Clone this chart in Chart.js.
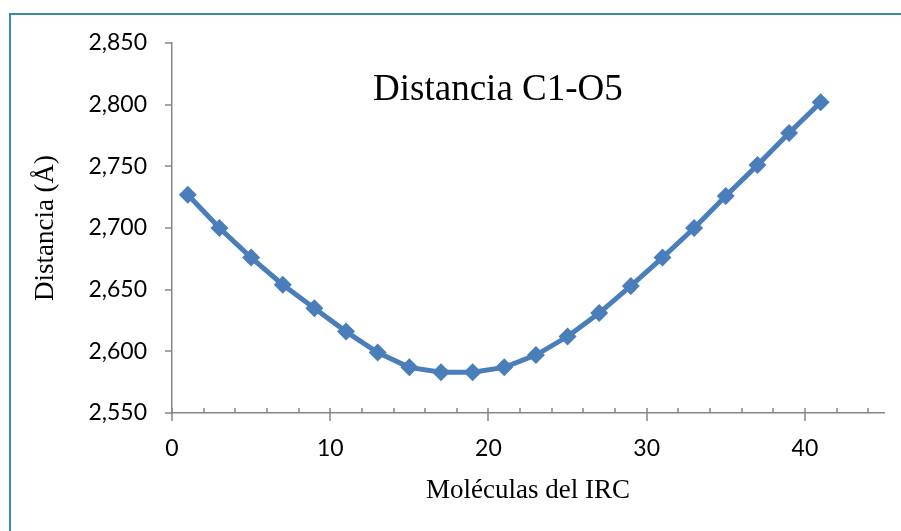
<!DOCTYPE html>
<html><head><meta charset="utf-8">
<script src="https://cdn.jsdelivr.net/npm/chart.js@4"></script>
<style>
html,body{margin:0;padding:0;background:#fff;}
#wrap{position:relative;width:901px;height:531px;overflow:hidden;}
#frame{position:absolute;left:9px;top:13px;width:900px;height:600px;border-left:2px solid #3A8CA8;border-top:2px solid #3A8CA8;box-sizing:border-box;}
canvas{position:absolute;left:0;top:0;}
</style></head>
<body><div id="wrap"><div id="frame"></div><canvas id="c" width="901" height="531"></canvas></div>
<script>
const titleText = "Distancia C1-O5";
const xTitle = "Moléculas del IRC";
const yTitle = "Distancia (Å)";
const xValues = [1,3,5,7,9,11,13,15,17,19,21,23,25,27,29,31,33,35,37,39,41];
const distances = [2.727,2.700,2.676,2.654,2.635,2.616,2.599,2.587,2.583,2.583,2.587,2.597,2.612,2.631,2.653,2.676,2.700,2.726,2.751,2.777,2.802];
const xMin = 0, xMax = 45, xMajor = 10, xMinor = 2;
const yMin = 2.55, yMax = 2.85, yStep = 0.05;

const pts = xValues.map((x,i)=>({x:x,y:distances[i]}));
const axisColor = '#868686';
const tickFont = {family:'Lato, "Open Sans", sans-serif', size:23};
const serif = '"Liberation Serif", "DejaVu Serif", serif';

const tickPlugin = {
  id:'ticks',
  afterDraw(chart){
    const ctx = chart.ctx, xs = chart.scales.x, ys = chart.scales.y;
    const a = chart.chartArea;
    ctx.save();
    ctx.strokeStyle = axisColor; ctx.lineWidth = 1.5;
    ctx.beginPath();
    for (let v = xMin; v < xMax; v += xMinor) {
      const px = Math.round(xs.getPixelForValue(v));
      if (v % xMajor === 0) { ctx.moveTo(px, a.bottom-5); ctx.lineTo(px, a.bottom+8); }
      else { ctx.moveTo(px, a.bottom-5); ctx.lineTo(px, a.bottom); }
    }
    ys.ticks.forEach(t=>{
      const py = Math.round(ys.getPixelForValue(t.value));
      ctx.moveTo(a.left-7, py); ctx.lineTo(a.left, py);
    });
    ctx.stroke();
    ctx.fillStyle = '#000';
    ctx.font = '37px ' + serif;
    ctx.textAlign = 'center'; ctx.textBaseline = 'middle';
    ctx.fillText(titleText, xs.getPixelForValue(20.6), ys.getPixelForValue(2.812));
    ctx.restore();
  }
};

new Chart(document.getElementById('c'), {
  type:'scatter',
  data:{datasets:[{
    data:pts, showLine:true, borderColor:'#4A7EBB', backgroundColor:'#4A7EBB',
    borderWidth:5, pointStyle:'rectRot', pointRadius:9, pointHoverRadius:9,
    pointBorderWidth:0, tension:0
  }]},
  options:{
    responsive:false, animation:false, devicePixelRatio:1,
    layout:{padding:{left:0,top:43,right:17,bottom:0}},
    plugins:{legend:{display:false}, tooltip:{enabled:false}, title:{display:false}},
    scales:{
      x:{type:'linear', min:xMin, max:xMax,
        afterFit(s){ s.height = 118; },
        grid:{display:false},
        border:{display:true, color:axisColor, width:1.5},
        ticks:{stepSize:xMajor, color:'#000', font:tickFont, padding:14, maxRotation:0,
          callback:v=> (v % xMajor === 0 && v < xMax) ? String(v) : ''},
        title:{display:true, text:xTitle, color:'#000', font:{family:serif, size:27}, padding:{top:4, bottom:24}}
      },
      y:{type:'linear', min:yMin, max:yMax,
        afterFit(s){ s.width = 172; },
        grid:{display:false},
        border:{display:true, color:axisColor, width:1.5},
        ticks:{stepSize:yStep, color:'#000', font:tickFont, padding:17,
          callback:v=>v.toFixed(3).replace('.',',')},
        title:{display:true, text:yTitle, color:'#000', font:{family:serif, size:27}, padding:{top:30, bottom:0}}
      }
    }
  },
  plugins:[tickPlugin]
});
</script></body></html>
